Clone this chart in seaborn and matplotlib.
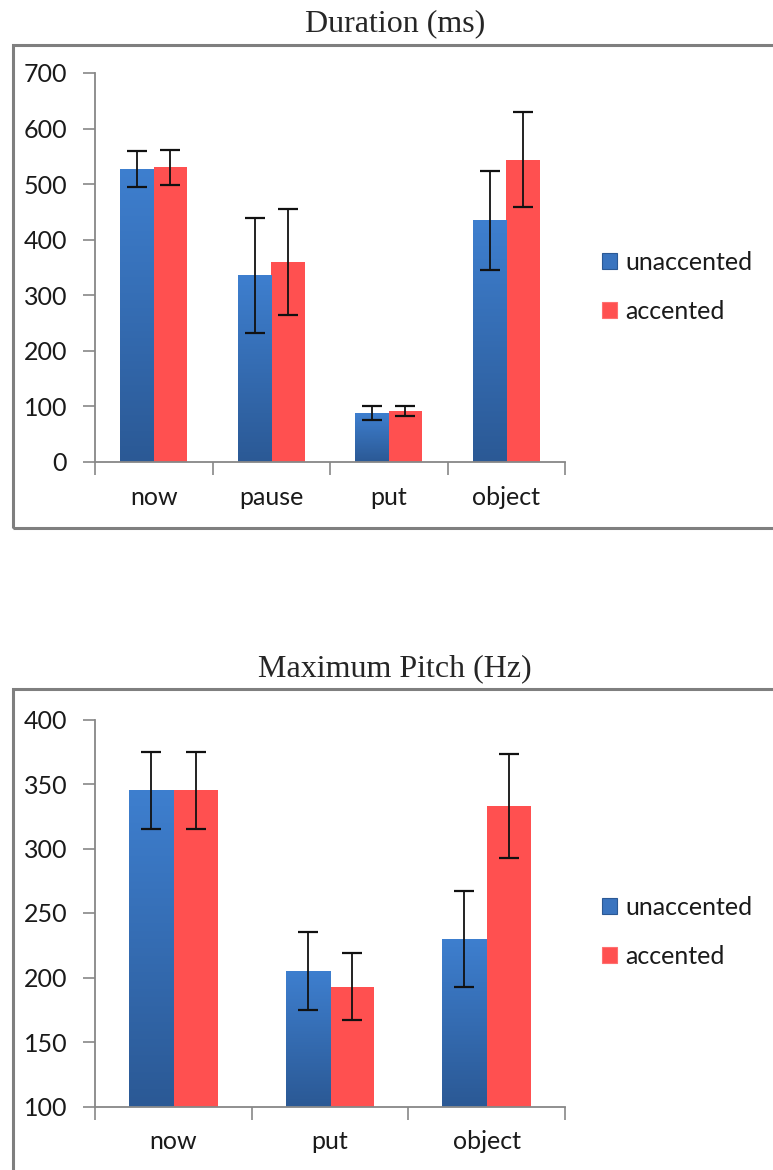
import numpy as np
import pandas as pd
import matplotlib
matplotlib.use("Agg")
import matplotlib.pyplot as plt
import seaborn as sns
from matplotlib.patches import Patch, Rectangle
from matplotlib.colors import LinearSegmentedColormap

# --- data ---
groups = ["unaccented", "accented"]

dur_words = ["now", "pause", "put", "object"]
dur_unacc = [527, 336, 88, 435]
dur_acc = [530, 360, 92, 544]
dur_unacc_err = [32, 103, 12, 89]
dur_acc_err = [31, 95, 9, 85]

pitch_words = ["now", "put", "object"]
pitch_unacc = [345, 205, 230]
pitch_acc = [345, 193, 333]
pitch_unacc_err = [30, 30, 37]
pitch_acc_err = [30, 26, 40]

BLUE = "#3a74bf"
BLUE_TOP = "#3e7fcf"
BLUE_BOT = "#2b5995"
RED = "#ff5050"
GREY = "#878787"

sns.set_style("white")
plt.rcParams["font.family"] = ["Lato", "DejaVu Sans"]

blue_cmap = LinearSegmentedColormap.from_list("bl", [BLUE_BOT, BLUE_TOP])


def make_df(words, unacc, acc):
    return pd.DataFrame({
        "word": words * 2,
        "group": ["unaccented"] * len(words) + ["accented"] * len(words),
        "value": list(unacc) + list(acc),
    })


def draw_panel(ax, words, unacc, acc, unacc_err, acc_err, ylim, yticks):
    df = make_df(words, unacc, acc)
    sns.barplot(data=df, x="word", y="value", hue="group", hue_order=groups,
                palette={"unaccented": BLUE, "accented": RED},
                width=0.566, gap=0, errorbar=None, saturation=1,
                linewidth=0, legend=False, ax=ax)
    ax.set_ylim(*ylim)
    n = len(words)
    ax.set_xlim(-0.5, n - 0.5)

    # gradient on the blue bars
    grad = np.linspace(0, 1, 256).reshape(-1, 1)
    for p in ax.containers[0]:
        x0, w = p.get_x(), p.get_width()
        y1 = p.get_y() + p.get_height()
        y0 = max(p.get_y(), ylim[0])
        im = ax.imshow(grad, cmap=blue_cmap, origin="lower", aspect="auto",
                       extent=(x0, x0 + w, y0, y1), zorder=p.get_zorder() + 0.1)
        im.set_clip_path(p)
    ax.set_xlim(-0.5, n - 0.5)
    ax.set_ylim(*ylim)

    for cont, vals, errs in [(ax.containers[0], unacc, unacc_err),
                             (ax.containers[1], acc, acc_err)]:
        xs = [p.get_x() + p.get_width() / 2 for p in cont]
        ax.errorbar(xs, vals, yerr=errs, fmt="none", ecolor="#111111",
                    elinewidth=1.3, capsize=7, capthick=1.6, zorder=5)

    ax.set_yticks(yticks)
    ax.set_xticks(range(n))
    ax.set_xticklabels(words)
    ax.set_xticks(np.arange(-0.5, n, 1.0), minor=True)
    ax.set_xlabel("")
    ax.set_ylabel("")
    ax.tick_params(axis="x", which="major", bottom=True, length=0, pad=17,
                   labelsize=18, labelcolor="#1a1a1a")
    ax.tick_params(axis="x", which="minor", bottom=True, length=9, width=1.2,
                   color=GREY, direction="out")
    ax.tick_params(axis="y", left=True, length=9, width=1.2, color=GREY,
                   direction="out", pad=11, labelsize=18, labelcolor="#1a1a1a")
    for s in ["top", "right"]:
        ax.spines[s].set_visible(False)
    for s in ["left", "bottom"]:
        ax.spines[s].set_color(GREY)
        ax.spines[s].set_linewidth(1.3)


fig = plt.figure(figsize=(7.73, 11.70), dpi=100)

ax1 = fig.add_axes([95 / 773, 1 - 462 / 1170, 470 / 773, 389 / 1170])
draw_panel(ax1, dur_words, dur_unacc, dur_acc, dur_unacc_err, dur_acc_err,
           (0, 700), range(0, 701, 100))

ax2 = fig.add_axes([95 / 773, 1 - 1106.5 / 1170, 470 / 773, 387 / 1170])
draw_panel(ax2, pitch_words, pitch_unacc, pitch_acc, pitch_unacc_err,
           pitch_acc_err, (100, 400), range(100, 401, 50))

# outer frames around each chart
fig.add_artist(Rectangle((13 / 773, 1 - 528 / 1170), 800 / 773, 483 / 1170,
                         transform=fig.transFigure, fill=False,
                         edgecolor="#7f7f7f", linewidth=2.2))
fig.add_artist(Rectangle((13 / 773, -0.05), 800 / 773, 1 - 689 / 1170 + 0.05,
                         transform=fig.transFigure, fill=False,
                         edgecolor="#7f7f7f", linewidth=2.2))

# titles
fig.text(395 / 773, 1 - 24 / 1170, "Duration (ms)", ha="center", va="center",
         fontsize=23, family="Liberation Serif")
fig.text(395 / 773, 1 - 669 / 1170, "Maximum Pitch (Hz)", ha="center",
         va="center", fontsize=23, family="Liberation Serif")

# legends
handles = [Patch(facecolor=BLUE, edgecolor=BLUE_BOT, linewidth=0.8),
           Patch(facecolor=RED, edgecolor="#ff7070", linewidth=0.8)]
for yc in [287 / 1170, 932 / 1170]:
    fig.legend(handles, groups, loc="center left",
               bbox_to_anchor=(602 / 773, 1 - yc), frameon=False,
               fontsize=18, handlelength=0.6, handleheight=0.6,
               handletextpad=0.35, labelspacing=1.05, borderpad=0,
               borderaxespad=0, labelcolor="#1a1a1a")

fig.savefig("out.png", dpi=100)
